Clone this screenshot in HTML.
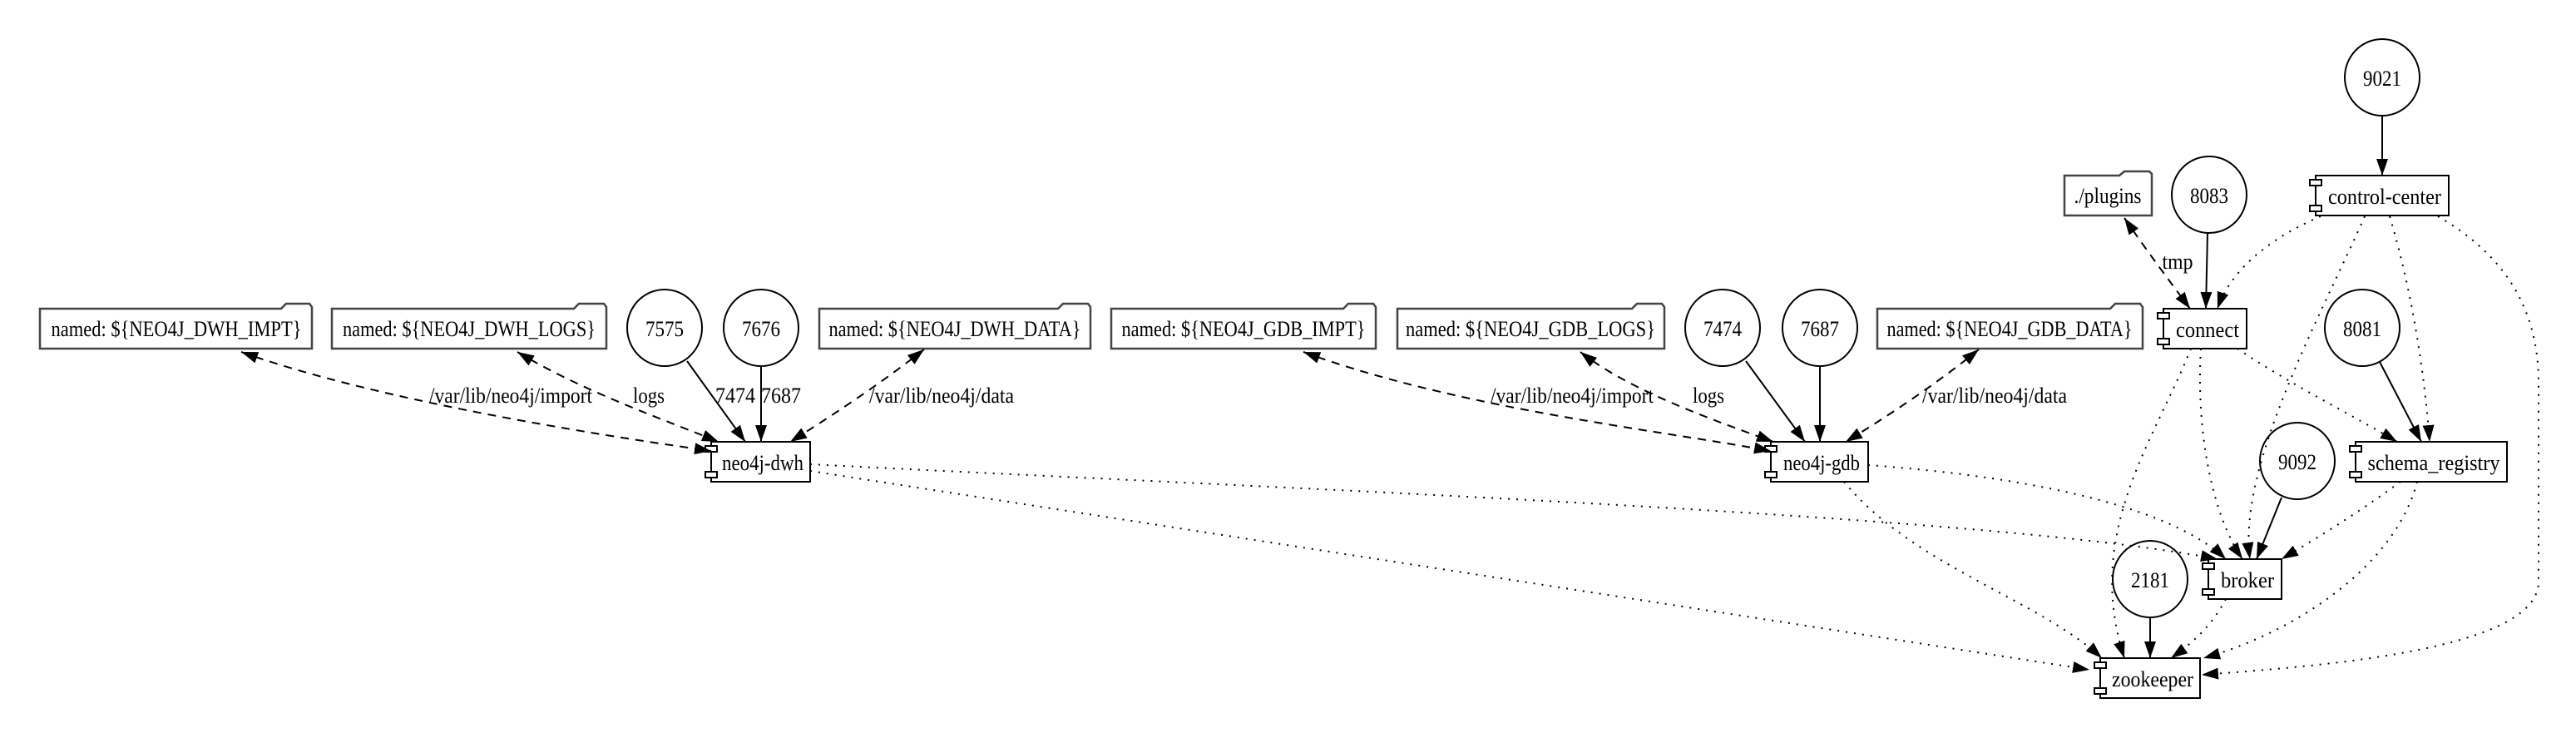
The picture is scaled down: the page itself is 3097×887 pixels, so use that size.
<!DOCTYPE html>
<html><head><meta charset="utf-8"><style>
html,body{margin:0;padding:0;background:#fff;}
svg{display:block;}
text{font-family:"Liberation Serif",serif;font-size:26px;fill:#000;}
</style></head><body>
<svg width="3097" height="887" viewBox="0 0 3097 887" xmlns="http://www.w3.org/2000/svg">
<defs>
<marker id="a" markerUnits="userSpaceOnUse" markerWidth="22" markerHeight="16" refX="20" refY="7" orient="auto">
<path d="M0,0 L20,7 L0,14 Z" fill="#000"/>
</marker>
<marker id="s" markerUnits="userSpaceOnUse" markerWidth="22" markerHeight="16" refX="0" refY="7" orient="auto">
<path d="M20,0 L0,7 L20,14 Z" fill="#000"/>
</marker>
</defs>
<rect width="3097" height="887" fill="#fff"/>

<g fill="#fff" stroke="#444" stroke-width="2.5">
<path d="M48,371 H338 L344,365 H372 L375,369 V419 H48 Z"/>
<path d="M399,371 H690 L696,365 H726 L729,369 V419 H399 Z"/>
<path d="M985,371 H1272 L1278,365 H1308 L1311,369 V419 H985 Z"/>
<path d="M1336,371 H1615 L1621,365 H1651 L1654,369 V419 H1336 Z"/>
<path d="M1680,371 H1962 L1968,365 H1998 L2001,369 V419 H1680 Z"/>
<path d="M2257,371 H2537 L2543,365 H2573 L2576,369 V419 H2257 Z"/>
<path d="M2482,211 H2548 L2554,206 H2584 L2587,209 V259 H2482 Z"/>
</g>
<g text-anchor="middle" lengthAdjust="spacingAndGlyphs">
<text x="212" y="404" textLength="301" lengthAdjust="spacingAndGlyphs">named: ${NEO4J_DWH_IMPT}</text>
<text x="564" y="404" textLength="304" lengthAdjust="spacingAndGlyphs">named: ${NEO4J_DWH_LOGS}</text>
<text x="1148" y="404" textLength="303" lengthAdjust="spacingAndGlyphs">named: ${NEO4J_DWH_DATA}</text>
<text x="1495" y="404" textLength="293" lengthAdjust="spacingAndGlyphs">named: ${NEO4J_GDB_IMPT}</text>
<text x="1840" y="404" textLength="300" lengthAdjust="spacingAndGlyphs">named: ${NEO4J_GDB_LOGS}</text>
<text x="2416" y="404" textLength="295" lengthAdjust="spacingAndGlyphs">named: ${NEO4J_GDB_DATA}</text>
<text x="2534" y="244" textLength="81" lengthAdjust="spacingAndGlyphs">./plugins</text>
</g>

<g fill="none" stroke="#000" stroke-width="2">
<ellipse cx="799" cy="394" rx="45" ry="46"/>
<ellipse cx="915" cy="394" rx="45" ry="46"/>
<ellipse cx="2071" cy="394" rx="45" ry="46"/>
<ellipse cx="2188" cy="394" rx="45" ry="46"/>
<ellipse cx="2656" cy="234" rx="45" ry="46"/>
<ellipse cx="2864" cy="93" rx="45" ry="46"/>
<ellipse cx="2840" cy="394" rx="45" ry="46"/>
<ellipse cx="2762" cy="554" rx="45" ry="46"/>
<ellipse cx="2585" cy="696" rx="45" ry="46"/>
</g>
<g text-anchor="middle">
<text x="799" y="404" textLength="46" lengthAdjust="spacingAndGlyphs">7575</text>
<text x="915" y="404" textLength="46" lengthAdjust="spacingAndGlyphs">7676</text>
<text x="2071" y="404" textLength="46" lengthAdjust="spacingAndGlyphs">7474</text>
<text x="2188" y="404" textLength="46" lengthAdjust="spacingAndGlyphs">7687</text>
<text x="2656" y="244" textLength="46" lengthAdjust="spacingAndGlyphs">8083</text>
<text x="2864" y="103" textLength="46" lengthAdjust="spacingAndGlyphs">9021</text>
<text x="2840" y="404" textLength="46" lengthAdjust="spacingAndGlyphs">8081</text>
<text x="2762" y="564" textLength="46" lengthAdjust="spacingAndGlyphs">9092</text>
<text x="2585" y="706" textLength="46" lengthAdjust="spacingAndGlyphs">2181</text>
</g>

<g fill="#fff" stroke="#000" stroke-width="2">
<rect x="855" y="531" width="119" height="48"/>
<rect x="848" y="536" width="14" height="7"/><rect x="848" y="567" width="14" height="7"/>
<rect x="2129" y="531" width="117" height="48"/>
<rect x="2122" y="536" width="14" height="7"/><rect x="2122" y="567" width="14" height="7"/>
<rect x="2601" y="371" width="100" height="48"/>
<rect x="2594" y="376" width="14" height="7"/><rect x="2594" y="407" width="14" height="7"/>
<rect x="2784" y="211" width="160" height="48"/>
<rect x="2777" y="216" width="14" height="7"/><rect x="2777" y="247" width="14" height="7"/>
<rect x="2832" y="531" width="182" height="48"/>
<rect x="2825" y="536" width="14" height="7"/><rect x="2825" y="567" width="14" height="7"/>
<rect x="2655" y="672" width="88" height="48"/>
<rect x="2648" y="677" width="14" height="7"/><rect x="2648" y="708" width="14" height="7"/>
<rect x="2525" y="791" width="120" height="48"/>
<rect x="2518" y="796" width="14" height="7"/><rect x="2518" y="827" width="14" height="7"/>
</g>
<g text-anchor="middle">
<text x="917" y="565" textLength="98" lengthAdjust="spacingAndGlyphs">neo4j-dwh</text>
<text x="2190" y="565" textLength="92" lengthAdjust="spacingAndGlyphs">neo4j-gdb</text>
<text x="2654" y="405" textLength="76" lengthAdjust="spacingAndGlyphs">connect</text>
<text x="2867" y="245" textLength="136" lengthAdjust="spacingAndGlyphs">control-center</text>
<text x="2926" y="565" textLength="159" lengthAdjust="spacingAndGlyphs">schema_registry</text>
<text x="2702" y="706" textLength="64" lengthAdjust="spacingAndGlyphs">broker</text>
<text x="2588" y="825" textLength="98" lengthAdjust="spacingAndGlyphs">zookeeper</text>
</g>

<g fill="none" stroke="#000" stroke-width="2" marker-end="url(#a)">
<path d="M826,434 L896,531"/>
<path d="M915,441 L915,531"/>
<path d="M2099,434 L2170,531"/>
<path d="M2188,441 L2188,531"/>
<path d="M2654,281 L2652,371"/>
<path d="M2864,140 L2864,211"/>
<path d="M2861,435 L2911,531"/>
<path d="M2743,598 L2713,672"/>
<path d="M2585,742 L2585,791"/>
</g>

<g fill="none" stroke="#000" stroke-width="2" stroke-dasharray="10,8" marker-start="url(#s)" marker-end="url(#a)">
<path d="M290,423 C450,480 700,520 855,542"/>
<path d="M622,423 C700,470 800,505 864,531"/>
<path d="M1111,420 C1060,460 1000,500 950,531"/>
<path d="M1567,423 C1750,490 1980,515 2129,542"/>
<path d="M1900,423 C1960,470 2060,505 2132,531"/>
<path d="M2379,420 C2330,460 2270,500 2219,531"/>
<path d="M2554,262 C2580,300 2610,340 2633,371"/>
</g>

<g fill="none" stroke="#000" stroke-width="2" stroke-dasharray="2,8" marker-end="url(#a)">
<path d="M974,558 C1600,590 2400,620 2666,672"/>
<path d="M974,566 L2512,805"/>
<path d="M2246,559 C2400,570 2600,600 2676,672"/>
<path d="M2217,579 C2300,680 2450,720 2527,791"/>
<path d="M2634,419 C2590,530 2505,640 2554,791"/>
<path d="M2646,419 C2640,520 2660,620 2696,672"/>
<path d="M2690,419 C2750,460 2830,500 2882,531"/>
<path d="M2790,260 C2720,290 2680,330 2666,371"/>
<path d="M2843,260 C2790,380 2690,560 2705,672"/>
<path d="M2873,260 C2900,350 2915,450 2921,531"/>
<path d="M2931,260 C3000,300 3052,360 3052,460 L3052,700 C3050,780 2800,800 2647,811"/>
<path d="M2886,579 C2830,620 2780,650 2743,672"/>
<path d="M2906,579 C2880,680 2760,760 2649,791"/>
<path d="M2676,720 C2660,750 2640,770 2610,791"/>
</g>

<g text-anchor="middle">
<text x="614" y="484" textLength="196" lengthAdjust="spacingAndGlyphs">/var/lib/neo4j/import</text>
<text x="780" y="484" textLength="38" lengthAdjust="spacingAndGlyphs">logs</text>
<text x="884" y="484" textLength="48" lengthAdjust="spacingAndGlyphs">7474</text>
<text x="939" y="484" textLength="48" lengthAdjust="spacingAndGlyphs">7687</text>
<text x="1132" y="484" textLength="174" lengthAdjust="spacingAndGlyphs">/var/lib/neo4j/data</text>
<text x="1890" y="484" textLength="196" lengthAdjust="spacingAndGlyphs">/var/lib/neo4j/import</text>
<text x="2054" y="484" textLength="38" lengthAdjust="spacingAndGlyphs">logs</text>
<text x="2398" y="484" textLength="174" lengthAdjust="spacingAndGlyphs">/var/lib/neo4j/data</text>
<text x="2618" y="323" textLength="37" lengthAdjust="spacingAndGlyphs">tmp</text>
</g>
</svg>
</body></html>
